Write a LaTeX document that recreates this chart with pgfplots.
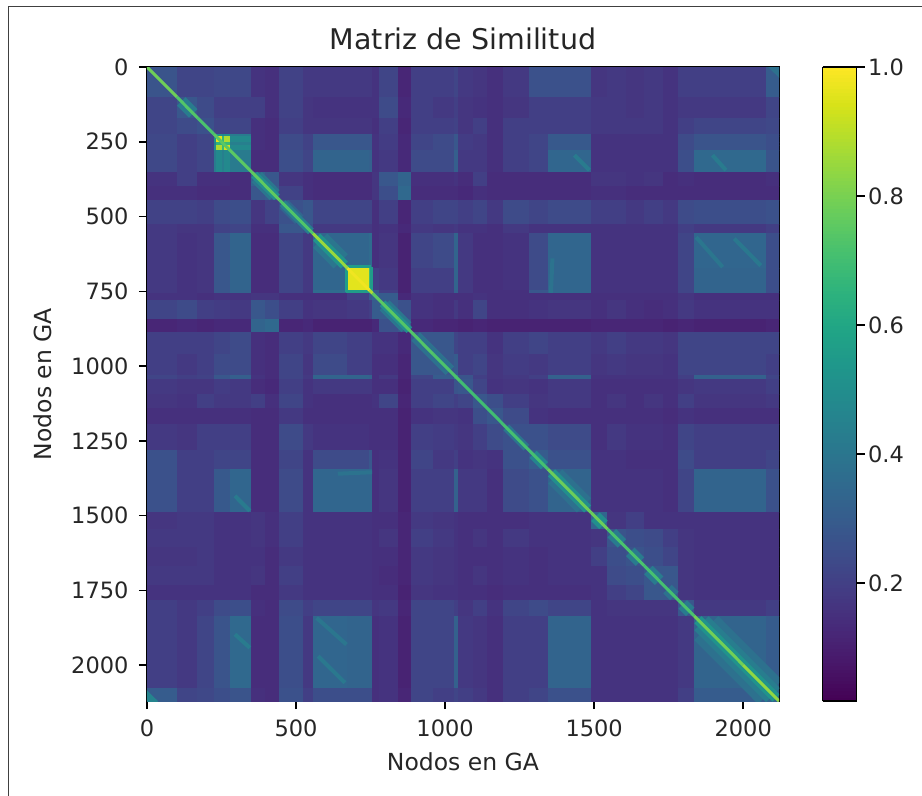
\documentclass[border=0pt]{standalone}
\usepackage{fontspec}
\setmainfont{DejaVu Sans}
\usepackage{pgfplots}
\usepackage{pgfplotstable}
\pgfplotsset{compat=1.18}
% Similarity matrix, read per band of nodes; entries in hundredths.
\pgfplotstableread[header=false]{
27 22 22 23 23 23 23 23 16 15 21 18 18 18 18 16 22 12 20 20 22 18 17 15 18 26 26 17 18 17 18 16 20 20 30
22 28 24 20 20 20 20 20 20 15 21 17 16 16 16 16 24 13 20 18 20 17 16 15 17 20 20 18 18 17 18 16 18 18 22
22 24 26 22 22 22 22 22 15 14 20 17 17 17 17 15 20 12 20 20 21 17 20 15 20 20 20 18 18 18 18 16 20 22 23
23 20 22 46 50 46 50 42 15 14 24 21 28 28 28 16 19 13 22 24 28 19 18 15 20 22 29 16 16 16 16 16 24 27 25
23 20 22 50 96 66 88 48 15 14 24 21 28 28 28 16 19 13 22 24 28 19 18 15 20 22 29 16 16 16 16 16 24 27 25
23 20 22 46 66 58 68 44 15 14 24 21 28 28 28 16 19 13 22 24 28 19 18 15 20 22 29 16 16 16 16 16 24 27 25
23 20 22 50 88 68 94 48 15 14 24 21 28 28 28 16 19 13 22 24 28 19 18 15 20 22 29 16 16 16 16 16 24 27 25
23 20 22 42 48 44 48 42 14 14 25 22 33 33 32 16 18 13 24 24 31 18 18 15 20 22 34 16 16 16 16 16 25 35 27
16 20 15 15 15 15 15 14 33 28 17 15 14 14 14 17 28 33 15 15 16 14 20 14 14 14 14 17 17 16 17 14 15 14 15
15 15 14 14 14 14 14 14 28 30 21 15 14 14 14 17 25 35 14 14 14 13 15 14 14 14 14 15 15 14 14 14 14 14 14
21 21 20 24 24 24 24 25 17 21 26 28 22 22 22 15 20 12 20 22 22 20 22 18 24 22 24 20 20 18 20 18 24 25 26
18 17 17 21 21 21 21 22 15 15 28 26 18 18 18 15 16 13 18 17 18 16 16 15 18 16 16 16 16 16 16 16 20 18 20
18 16 17 28 28 28 28 33 14 14 22 18 34 34 36 15 17 11 22 24 33 18 15 15 16 24 34 16 16 16 16 16 22 34 25
18 16 17 28 28 28 28 33 14 14 22 18 34 96 70 20 18 11 20 20 33 18 15 15 16 24 34 16 16 16 16 16 22 33 25
18 16 17 28 28 28 28 32 14 14 22 18 36 70 60 30 20 11 20 20 32 18 15 15 15 28 34 16 16 16 16 16 22 33 25
16 16 15 16 16 16 16 16 17 17 15 15 15 20 30 34 30 13 16 15 15 15 16 15 15 15 15 15 15 15 15 15 17 15 15
22 24 20 19 19 19 19 18 28 25 20 16 17 18 20 30 30 26 16 15 18 15 22 15 15 16 17 15 17 15 14 15 18 16 16
12 13 12 13 13 13 13 13 33 35 12 13 11 11 11 13 26 28 13 12 12 11 12 11 11 11 11 12 12 12 12 11 12 11 12
20 20 20 22 22 22 22 24 15 14 20 18 22 20 20 16 16 13 28 28 22 20 20 16 20 22 20 18 20 18 18 17 22 22 22
20 18 20 24 24 24 24 24 15 14 22 17 24 20 20 15 15 12 28 28 30 20 22 17 19 18 20 17 18 17 17 16 22 22 20
22 20 21 28 28 28 28 31 16 14 22 18 33 33 32 15 18 12 22 30 46 27 20 17 18 20 32 16 16 16 16 16 20 32 22
18 17 17 19 19 19 19 18 14 13 20 16 18 18 18 15 15 11 20 20 27 28 22 16 17 16 18 15 15 15 15 15 17 18 20
17 16 20 18 18 18 18 18 20 15 22 16 15 15 15 16 22 12 20 22 20 22 28 25 20 17 18 15 17 15 17 15 20 17 18
15 15 15 15 15 15 15 15 14 14 18 15 15 15 15 15 15 11 16 17 17 16 25 28 24 16 15 15 15 15 15 14 16 15 15
18 17 20 20 20 20 20 20 14 14 24 18 16 16 15 15 15 11 20 19 18 17 20 24 26 26 24 15 18 16 16 15 22 20 20
26 20 20 22 22 22 22 22 14 14 22 16 24 24 28 15 16 11 22 18 20 16 17 16 26 30 26 16 16 15 15 15 24 20 22
26 20 20 29 29 29 29 34 14 14 24 16 34 34 34 15 17 11 20 20 32 18 18 15 24 26 33 16 16 16 16 15 22 33 26
17 18 18 16 16 16 16 16 17 15 20 16 16 16 16 15 15 12 18 17 16 15 15 15 15 16 16 34 17 20 16 16 16 16 16
18 18 18 16 16 16 16 16 17 15 20 16 16 16 16 15 17 12 20 18 16 15 17 15 18 16 16 17 27 25 24 20 17 16 16
17 17 18 16 16 16 16 16 16 14 18 16 16 16 16 15 15 12 18 17 16 15 15 15 16 15 16 20 25 27 25 22 17 16 16
18 18 18 16 16 16 16 16 17 14 20 16 16 16 16 15 14 12 18 17 16 15 17 15 16 15 16 16 24 25 28 28 17 16 16
16 16 16 16 16 16 16 16 14 14 18 16 16 16 16 15 15 11 17 16 16 15 15 14 15 15 15 16 20 22 28 28 17 16 16
20 18 20 24 24 24 24 25 15 14 24 20 22 22 22 17 18 12 22 22 20 17 20 16 22 24 22 16 17 17 17 17 28 18 20
20 18 22 27 27 27 27 35 14 14 25 18 34 33 33 15 16 11 22 22 32 18 17 15 20 20 33 16 16 16 16 16 18 33 30
30 22 23 25 25 25 25 27 15 14 26 20 25 25 25 15 16 12 22 20 22 20 18 15 20 22 26 16 16 16 16 16 20 30 33
}\M
\def\E{0,100,170,225,232,253,260,278,351,397,445,525,557,673,747,757,780,843,887,960,1030,1044,1095,1140,1195,1283,1345,1490,1545,1607,1668,1732,1783,1836,2076,2120}
\gdef\C{}
\foreach \yy [count=\i from 0] in \E {%
  \pgfmathtruncatemacro\ri{min(\i,34)}%
  \foreach \xx [count=\j from 0] in \E {%
    \pgfmathtruncatemacro\rj{min(\j,34)}%
    \pgfplotstablegetelem{\ri}{[index]\rj}\of\M
    \xdef\C{\C (\xx,\yy) [0.\pgfplotsretval]}%
  }%
}
\def\plotC#1{\addplot[surf,shader=flat corner,mesh/cols=36,point meta=explicit] coordinates {#1};}
\pgfplotsset{lin/.style={mesh,point meta=explicit,line width=#1,line cap=butt,forget plot}}
\begin{document}
\begin{tikzpicture}
\path[use as bounding box] (0pt,0pt) rectangle (922pt,796pt);
\draw[line width=1pt,black!75] (8.5pt,0pt) -- (8.5pt,789.5pt) -- (922pt,789.5pt);
\begin{axis}[
  at={(147pt,95pt)},anchor=south west,
  scale only axis,width=632pt,height=634pt,
  xmin=0,xmax=2120,ymin=0,ymax=2120,y dir=reverse,
  xtick={0,500,1000,1500,2000},ytick={0,250,500,750,1000,1250,1500,1750,2000},
  tick align=outside,xtick pos=bottom,ytick pos=left,xticklabel pos=bottom,
  major tick length=8pt,
  every tick/.style={black,line width=1.5pt},
  axis line style={line width=1.5pt},
  /pgf/number format/assume math mode=true,
  /pgf/number format/1000 sep={},
  ticklabel style={font=\fontsize{22.5}{25}\selectfont,text=black!85},
  xticklabel style={yshift=-7pt},
  yticklabel style={xshift=-7pt},
  label style={font=\fontsize{23.5}{26}\selectfont,text=black!85},
  xlabel style={at={(axis description cs:0.5,-0.0962)},anchor=center},
  ylabel style={at={(axis description cs:-0.1646,0.5)},anchor=center},
  title style={font=\fontsize{28.5}{31}\selectfont,text=black!85,at={(axis description cs:0.5,1.035)},anchor=center},
  title={Matriz de Similitud},
  xlabel={Nodos en GA},ylabel={Nodos en GA},
  colormap/viridis,point meta min=0.017,point meta max=1,
  colorbar sampled,
  colorbar style={
    at={(parent axis.north east)},anchor=north west,xshift=35pt,
    width=34pt,height=634pt,samples=180,
    ytick={0.2,0.4,0.6,0.8,1.0},ytick pos=right,yticklabel pos=right,
    /pgf/number format/fixed,/pgf/number format/fixed zerofill,/pgf/number format/precision=1,
    /pgf/number format/assume math mode=true,
    major tick length=8pt,tick align=outside,
    every tick/.style={black,line width=1.5pt},
    axis line style={line width=1.5pt},
    ticklabel style={font=\fontsize{22.5}{25}\selectfont,text=black!85},
    yticklabel style={xshift=0pt},
  },
]
\expandafter\plotC\expandafter{\C}
% near-diagonal halos
\addplot[lin=34pt] coordinates {(1876,1876)[0.38] (2090,2090)[0.38]};
\addplot[lin=20pt] coordinates {(1860,1860)[0.43] (2100,2100)[0.43]};
\addplot[lin=10pt] coordinates {(1848,1848)[0.52] (2110,2110)[0.52]};
\addplot[lin=20pt] coordinates {(1369,1369)[0.38] (1466,1466)[0.38]};
\addplot[lin=10pt] coordinates {(1357,1357)[0.50] (1478,1478)[0.50]};
\addplot[lin=20pt] coordinates {(581,581)[0.40] (650,650)[0.40]};
\addplot[lin=10pt] coordinates {(569,569)[0.52] (662,662)[0.52]};
\addplot[lin=3pt] coordinates {(668,668)[0.56] (752,668)[0.56] (752,752)[0.56] (668,752)[0.56] (668,668)[0.56]};
\addplot[lin=12pt] coordinates {(115,115)[0.42] (155,155)[0.42]};
\addplot[lin=14pt] coordinates {(368,368)[0.40] (428,428)[0.40]};
\addplot[lin=8pt] coordinates {(360,360)[0.50] (436,436)[0.50]};
\addplot[lin=12pt] coordinates {(459,459)[0.34] (511,511)[0.34]};
\addplot[lin=8pt] coordinates {(455,455)[0.44] (550,550)[0.44]};
\addplot[lin=14pt] coordinates {(797,797)[0.40] (870,870)[0.40]};
\addplot[lin=8pt] coordinates {(790,790)[0.50] (880,880)[0.50]};
\addplot[lin=12pt] coordinates {(901,901)[0.38] (1016,1016)[0.38]};
\addplot[lin=8pt] coordinates {(1205,1205)[0.40] (1273,1273)[0.40]};
\addplot[lin=10pt] coordinates {(1295,1295)[0.46] (1333,1333)[0.46]};
\addplot[lin=12pt] coordinates {(1504,1504)[0.50] (1531,1531)[0.50]};
\addplot[lin=12pt] coordinates {(1559,1559)[0.42] (1593,1593)[0.42]};
\addplot[lin=12pt] coordinates {(1621,1621)[0.42] (1654,1654)[0.42]};
\addplot[lin=12pt] coordinates {(1682,1682)[0.42] (1718,1718)[0.42]};
\addplot[lin=12pt] coordinates {(1746,1746)[0.38] (1769,1769)[0.38]};
\addplot[lin=12pt] coordinates {(1797,1797)[0.42] (1822,1822)[0.42]};
% streaks
\addplot[lin=4pt] coordinates {(1970,574)[0.41] (2059,664)[0.41]};
\addplot[lin=4pt] coordinates {(1842,569)[0.40] (1931,669)[0.40]};
\addplot[lin=4pt] coordinates {(574,1970)[0.41] (664,2059)[0.41]};
\addplot[lin=4pt] coordinates {(569,1842)[0.40] (669,1931)[0.40]};
\addplot[lin=4pt] coordinates {(1897,295)[0.42] (1942,345)[0.42]};
\addplot[lin=4pt] coordinates {(295,1897)[0.42] (345,1942)[0.42]};
\addplot[lin=4pt] coordinates {(1434,295)[0.42] (1484,345)[0.42]};
\addplot[lin=4pt] coordinates {(295,1434)[0.42] (345,1484)[0.42]};
\addplot[lin=4pt] coordinates {(1360,640)[0.39] (1355,755)[0.39]};
\addplot[lin=4pt] coordinates {(640,1360)[0.39] (755,1355)[0.39]};
\addplot[lin=16pt] coordinates {(0,2120)[0.46] (18,2102)[0.46]};
\addplot[lin=16pt] coordinates {(2120,0)[0.38] (2102,18)[0.38]};
% main diagonal
\addplot[lin=3pt] coordinates {(0,0)[0.82] (100,100)[0.75] (170,170)[0.72] (225,225)[0.72] (351,351)[0.78] (445,445)[0.74] (557,557)[0.72] (673,673)[0.98] (747,747)[0.98] (757,757)[0.78] (843,843)[0.72] (960,960)[0.75] (1050,1050)[0.70] (1195,1195)[0.70] (1345,1345)[0.72] (1490,1490)[0.84] (1545,1545)[0.72] (1668,1668)[0.72] (1783,1783)[0.70] (1836,1836)[0.74] (2000,2000)[0.84] (2120,2120)[0.84]};
\end{axis}
\end{tikzpicture}
\end{document}
